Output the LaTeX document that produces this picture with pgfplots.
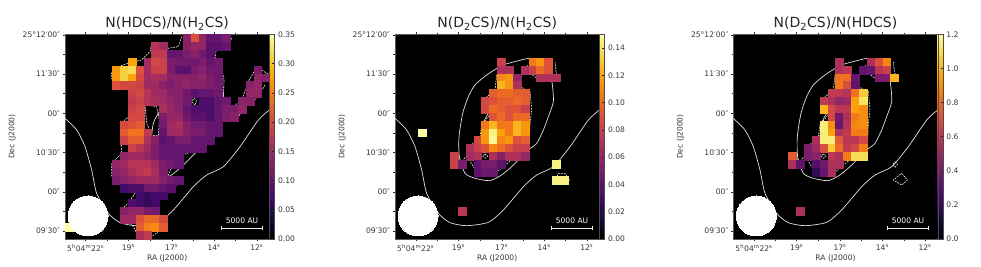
\documentclass[border=0pt]{standalone}
\usepackage{pgfplots}
\usepackage{pgfplotstable}
\usepackage{fontspec}
\setmainfont{DejaVu Sans}
\pgfplotsset{compat=1.18}
\pgfplotsset{colormap={inferno}{rgb255=(0,0,4) rgb255=(22,11,57) rgb255=(66,10,104) rgb255=(106,23,110) rgb255=(147,38,103) rgb255=(188,55,84) rgb255=(221,81,58) rgb255=(243,120,25) rgb255=(252,165,10) rgb255=(246,215,70) rgb255=(252,255,164)}}
\definecolor{txt}{gray}{0.22}
\definecolor{cont}{gray}{0.88}
\pgfplotstableread[row sep=\\]{i j v\\
15 0 .13\\16 0 .21\\17 0 .14\\18 0 .10\\19 0 .10\\20 0 .12\\
11 1 .17\\12 1 .15\\15 1 .13\\16 1 .14\\17 1 .14\\18 1 .09\\19 1 .09\\20 1 .10\\
11 2 .18\\12 2 .18\\13 2 .10\\14 2 .10\\15 2 .12\\16 2 .13\\17 2 .11\\18 2 .09\\
8 3 .28\\10 3 .15\\11 3 .20\\12 3 .19\\13 3 .12\\14 3 .11\\15 3 .11\\16 3 .11\\17 3 .12\\18 3 .10\\19 3 .11\\
6 4 .27\\7 4 .31\\8 4 .32\\9 4 .21\\10 4 .15\\11 4 .19\\12 4 .19\\13 4 .12\\14 4 .09\\15 4 .09\\16 4 .12\\17 4 .13\\18 4 .11\\19 4 .11\\24 4 .12\\
6 5 .27\\7 5 .31\\8 5 .28\\9 5 .20\\10 5 .15\\11 5 .16\\12 5 .15\\13 5 .13\\14 5 .13\\15 5 .13\\16 5 .13\\17 5 .14\\18 5 .12\\19 5 .11\\24 5 .14\\25 5 .13\\
6 6 .21\\7 6 .20\\8 6 .20\\9 6 .19\\10 6 .15\\11 6 .15\\12 6 .13\\13 6 .12\\14 6 .13\\15 6 .14\\16 6 .13\\17 6 .13\\18 6 .12\\19 6 .11\\23 6 .13\\24 6 .14\\
8 7 .19\\9 7 .20\\10 7 .17\\11 7 .15\\12 7 .15\\13 7 .13\\14 7 .13\\15 7 .11\\16 7 .09\\17 7 .10\\18 7 .10\\19 7 .11\\23 7 .14\\24 7 .14\\
8 8 .18\\9 8 .19\\10 8 .17\\11 8 .16\\12 8 .15\\13 8 .14\\14 8 .13\\15 8 .11\\17 8 .08\\18 8 .08\\19 8 .10\\20 8 .11\\22 8 .13\\23 8 .13\\
8 9 .19\\9 9 .20\\12 9 .16\\13 9 .14\\14 9 .13\\15 9 .10\\16 9 .08\\17 9 .08\\18 9 .08\\19 9 .10\\20 9 .12\\21 9 .12\\22 9 .14\\
8 10 .20\\9 10 .20\\12 10 .12\\13 10 .14\\14 10 .14\\15 10 .11\\16 10 .09\\17 10 .09\\18 10 .08\\19 10 .10\\20 10 .12\\21 10 .13\\
7 11 .20\\8 11 .21\\9 11 .22\\12 11 .11\\13 11 .15\\14 11 .16\\15 11 .13\\16 11 .11\\17 11 .11\\18 11 .10\\19 11 .10\\
7 12 .22\\8 12 .24\\9 12 .24\\10 12 .18\\12 12 .10\\13 12 .15\\14 12 .15\\15 12 .13\\16 12 .12\\17 12 .12\\18 12 .10\\19 12 .10\\
7 13 .19\\8 13 .22\\9 13 .22\\10 13 .16\\11 13 .13\\12 13 .09\\13 13 .10\\14 13 .12\\15 13 .12\\16 13 .10\\17 13 .10\\18 13 .10\\
8 14 .19\\9 14 .17\\10 14 .15\\11 14 .12\\12 14 .10\\13 14 .10\\14 14 .10\\15 14 .10\\16 14 .10\\17 14 .10\\
7 15 .14\\8 15 .15\\9 15 .15\\10 15 .14\\11 15 .12\\12 15 .10\\13 15 .10\\14 15 .10\\
6 16 .14\\7 16 .15\\8 16 .17\\9 16 .17\\10 16 .17\\11 16 .15\\12 16 .12\\13 16 .11\\14 16 .10\\
6 17 .13\\7 17 .14\\8 17 .16\\9 17 .17\\10 17 .18\\11 17 .16\\12 17 .12\\
6 18 .12\\7 18 .13\\8 18 .14\\9 18 .15\\10 18 .15\\11 18 .15\\12 18 .13\\13 18 .11\\14 18 .10\\
7 19 .07\\8 19 .08\\9 19 .08\\10 19 .11\\11 19 .11\\12 19 .10\\13 19 .09\\
9 20 .07\\10 20 .06\\11 20 .07\\12 20 .07\\
8 21 .08\\9 21 .07\\10 21 .06\\11 21 .07\\
7 22 .13\\8 22 .14\\9 22 .14\\10 22 .12\\11 22 .11\\
7 23 .15\\8 23 .15\\9 23 .21\\10 23 .23\\11 23 .23\\12 23 .20\\
0 24 .35\\9 24 .22\\10 24 .25\\11 24 .26\\12 24 .22\\
9 25 .16\\10 25 .18\\
}\tabA
\pgfplotstableread[row sep=\\]{i j v\\
13 3 .08\\17 3 .105\\18 3 .115\\19 3 .09\\
13 4 .07\\14 4 .07\\16 4 .07\\17 4 .08\\18 4 .10\\19 4 .09\\
13 5 .11\\14 5 .115\\15 5 .06\\18 5 .07\\19 5 .07\\20 5 .07\\
13 6 .125\\14 6 .115\\15 6 .07\\
12 7 .095\\13 7 .10\\14 7 .10\\15 7 .095\\16 7 .095\\
11 8 .085\\12 8 .09\\13 8 .095\\14 8 .095\\15 8 .10\\16 8 .095\\
11 9 .085\\12 9 .10\\13 9 .095\\14 9 .09\\15 9 .09\\16 9 .08\\
12 10 .09\\13 10 .10\\14 10 .09\\15 10 .10\\16 10 .10\\
11 11 .105\\12 11 .125\\13 11 .105\\14 11 .105\\15 11 .125\\16 11 .115\\
3 12 .15\\11 12 .115\\12 12 .145\\13 12 .12\\14 12 .105\\15 12 .125\\16 12 .115\\
10 13 .085\\11 13 .115\\12 13 .148\\13 13 .11\\14 13 .115\\15 13 .09\\16 13 .095\\
9 14 .07\\10 14 .08\\11 14 .09\\12 14 .11\\13 14 .10\\14 14 .09\\15 14 .08\\16 14 .08\\
7 15 .08\\9 15 .065\\10 15 .07\\12 15 .07\\13 15 .055\\14 15 .07\\15 15 .07\\16 15 .06\\
7 16 .08\\8 16 .05\\10 16 .04\\11 16 .05\\12 16 .05\\13 16 .04\\20 16 .145\\
10 17 .04\\11 17 .045\\12 17 .045\\
20 18 .145\\21 18 .145\\
8 22 .075\\
}\tabB
\pgfplotstableread[row sep=\\]{i j v\\
13 3 .55\\17 3 .55\\18 3 .72\\19 3 .88\\
13 4 .55\\14 4 .6\\16 4 .33\\17 4 .35\\18 4 .6\\19 4 .65\\
13 5 .82\\14 5 .82\\15 5 .35\\18 5 .42\\19 5 .42\\20 5 1.0\\
13 6 .85\\14 6 .7\\15 6 .33\\
12 7 .62\\13 7 .62\\14 7 .58\\15 7 .82\\16 7 1.05\\
11 8 .62\\12 8 .55\\13 8 .48\\14 8 .5\\15 8 .95\\16 8 1.12\\
11 9 1.0\\12 9 .68\\13 9 .6\\14 9 .6\\15 9 .95\\16 9 .9\\
12 10 .68\\13 10 .38\\14 10 .55\\15 10 .85\\16 10 .9\\
11 11 1.15\\12 11 .9\\13 11 .35\\14 11 .58\\15 11 .88\\16 11 .9\\
11 12 1.15\\12 12 .95\\13 12 .55\\14 12 .62\\15 12 .85\\16 12 .85\\
10 13 .55\\11 13 1.15\\12 13 1.15\\13 13 .75\\14 13 .6\\15 13 .6\\16 13 .68\\
9 14 .42\\10 14 .5\\11 14 .7\\12 14 1.05\\13 14 .8\\14 14 .62\\15 14 .68\\16 14 .85\\
7 15 .75\\9 15 .42\\10 15 .45\\12 15 .6\\13 15 .55\\14 15 .85\\15 15 1.1\\16 15 1.1\\
7 16 .55\\8 16 .33\\10 16 .3\\11 16 .38\\12 16 .55\\13 16 .55\\
10 17 .2\\11 17 .35\\12 17 .55\\
8 22 .55\\
}\tabC
\pgfplotsset{panel/.style={
  scale only axis, width=204.4pt, height=204.7pt, anchor=south west,
  xmin=45, xmax=658, ymin=73, ymax=687, y dir=reverse,
  axis background/.style={fill=black}, clip=true,
  tick align=outside, ytick pos=left,
  axis line style={gray!70!black, line width=0.5pt},
  tick style={gray!30!black, line width=0.35pt},
  major tick length=2.4pt, minor tick length=1.6pt,
  xtick={107,235,365,492,620},
  minor xtick={171,300,428,556},
  xticklabels={5\textsuperscript{h}04\textsuperscript{m}22\textsuperscript{s},19\textsuperscript{s},17\textsuperscript{s},14\textsuperscript{s},12\textsuperscript{s}},
  ytick={75,192,310,428,546,663},
  minor ytick={133,251,369,487,605},
  yticklabels={25°12′00″,11′30″,00″,10′30″,00″,09′30″},
  tick label style={font=\fontsize{7.6}{8}\selectfont, text=txt},
  every x tick label/.append style={yshift=0.5pt},
  every y tick label/.append style={xshift=1pt},
  xlabel={RA (J2000)}, ylabel={Dec (J2000)},
  label style={font=\fontsize{7.6}{8}\selectfont, text=txt},
  xlabel style={yshift=3.5pt}, ylabel style={yshift=0pt},
  title style={font=\fontsize{14}{16}\selectfont, text=black!85, yshift=-5.5pt},
  colormap name=inferno, colorbar,
  colorbar style={at={(1,0)}, anchor=south west, xshift=1pt, width=5.2pt, height=204.7pt,
    y dir=normal, axis line style={gray!60!black, line width=0.4pt},
    ytick pos=right, yticklabel pos=right, xtick=\empty,
    tick style={gray!30!black, line width=0.35pt}, major tick length=2.2pt,
    tick label style={font=\fontsize{7.6}{8}\selectfont, text=txt},
    every y tick label/.append style={xshift=0pt},
    title={}, xlabel={}, ylabel={}},
}}
\newcommand\cells[1]{\addplot[scatter, only marks, mark=square*, mark size=3.93pt, scatter src=explicit, scatter/use mapped color={draw=mapped color, fill=mapped color}, mark options={line width=0.2pt}]
  table[x expr={45+23.58*(\thisrow{i}+0.5)}, y expr={73+23.6*(\thisrow{j}+0.5)}, meta=v]{#1};}
\newcommand\solid{%
\addplot[cont, line width=0.7pt, smooth, tension=0.4] coordinates {(440,146)(495,148)(510,185)(517,225)(520,275)(505,320)(490,360)(470,400)(445,420)(395,470)(360,498)(328,512)(285,505)(255,490)(238,440)(237,380)(248,310)(265,260)(285,225)(320,195)(370,165)(440,146)};
\addplot[cont, line width=0.7pt, smooth, tension=0.4] coordinates {(370,280)(395,290)(412,325)(405,370)(380,400)(345,412)(318,412)(305,385)(310,340)(325,310)(345,290)(370,280)};
\addplot[cont, line width=0.7pt, smooth, tension=0.4] coordinates {(45,325)(80,360)(105,410)(125,480)(140,550)(175,610)(210,638)(260,647)(325,637)(370,600)(430,530)(470,495)(520,470)(570,410)(625,330)(658,300)};}
\newcommand\extras[1]{%
\addplot[only marks, mark=*, mark size=20pt, white, mark options={line width=0pt}] coordinates {(114,618)};
\addplot[white!92!black, line width=0.9pt] coordinates {(#1,654)(#1+122,654)};
\addplot[white!92!black, line width=0.8pt] coordinates {(#1,647)(#1,661)};
\addplot[white!92!black, line width=0.8pt] coordinates {(#1+122,647)(#1+122,661)};
\node[text=white, font=\fontsize{7.6}{8}\selectfont] at (axis cs:#1+61,633) {5000 AU};}
\tikzset{dsh/.style={white!95!black, line width=0.6pt, dash pattern=on 1.8pt off 1pt}}
\begin{document}
\begin{tikzpicture}[x=1pt,y=1pt]
\useasboundingbox (0,0) rectangle (981,267);
\begin{axis}[panel, at={(65pt,28pt)}, title={N(HDCS)/N(H\textsubscript{2}CS)}, point meta min=0, point meta max=0.35,
  colorbar style={ytick={0,.05,.1,.15,.2,.25,.3,.35}, yticklabels={0.00,0.05,0.10,0.15,0.20,0.25,0.30,0.35}}]
\cells{\tabA}
\solid
\addplot[dsh] coordinates {(545,85)(530,110)(495,125)(497,145)(515,175)(522,210)(520,260)(535,280)(550,290)(575,270)(595,215)(620,170)(635,180)(658,195)};
\addplot[dsh] coordinates {(645,225)(620,265)(590,285)(565,320)(520,335)(495,345)(490,380)(460,415)(395,435)(365,470)(355,495)(375,505)(382,525)(355,545)(325,560)(305,590)(335,630)(325,665)(295,687)};
\addplot[dsh] coordinates {(270,687)(250,650)(225,625)(212,600)(235,580)(255,550)(220,535)(185,500)(185,460)(215,430)(212,380)(212,340)(237,320)(240,250)(235,235)(190,225)(183,195)(190,175)(235,160)(275,150)(300,125)(305,100)(345,97)(355,115)(385,110)(395,80)};
\addplot[dsh] coordinates {(285,285)(320,290)(328,330)(325,378)(305,375)(290,340)(285,285)};
\addplot[dsh] coordinates {(440,175)(460,170)(465,190)(450,193)(440,175)};
\addplot[dsh] coordinates {(365,340)(385,345)(385,350)(365,350)(365,340)};
\addplot[dsh] coordinates {(432,265)(440,272)(435,285)(425,275)(432,265)};
\addplot[dsh] coordinates {(255,450)(295,440)(325,460)(330,505)(290,535)(250,520)(230,485)(240,460)(255,450)};
\extras{515}
\end{axis}
\begin{axis}[panel, at={(395pt,28pt)}, title={N(D\textsubscript{2}CS)/N(H\textsubscript{2}CS)}, point meta min=0, point meta max=0.15,
  colorbar style={ytick={0,.02,.04,.06,.08,.1,.12,.14}, yticklabels={0.00,0.02,0.04,0.06,0.08,0.10,0.12,0.14}}]
\cells{\tabB}
\solid
\addplot[dsh] coordinates {(525,155)(528,185)(537,208)(480,212)(450,190)(425,180)(445,165)};
\addplot[dsh] coordinates {(415,195)(420,230)(450,245)(455,300)(450,340)(447,420)(400,445)(370,470)(345,490)(300,500)(280,470)(265,445)(245,470)(215,470)(212,435)(232,430)(240,460)(258,440)(268,410)(300,380)(305,345)(325,320)(345,290)(310,310)(315,265)(345,240)(350,195)(385,190)(415,195)};
\addplot[dsh] coordinates {(315,432)(323,438)(315,445)(308,438)(315,432)};
\addplot[dsh] coordinates {(535,490)(555,490)(568,510)(550,522)(525,515)(535,490)};
\extras{515}
\end{axis}
\begin{axis}[panel, at={(733.3pt,28pt)}, title={N(D\textsubscript{2}CS)/N(HDCS)}, point meta min=0, point meta max=1.2,
  colorbar style={ytick={0,.2,.4,.6,.8,1,1.2}, yticklabels={0.0,0.2,0.4,0.6,0.8,1.0,1.2}}]
\cells{\tabC}
\solid
\addplot[dsh] coordinates {(525,155)(528,185)(537,208)(480,212)(450,190)(425,180)(445,165)};
\addplot[dsh] coordinates {(415,195)(420,230)(450,245)(455,300)(450,340)(447,420)(400,445)(370,470)(345,490)(300,500)(280,470)(265,445)(245,470)(215,470)(212,435)(232,430)(240,460)(258,440)(268,410)(300,380)(305,345)(325,320)(345,290)(310,310)(315,265)(345,240)(350,195)(385,190)(415,195)};
\addplot[dsh] coordinates {(315,432)(323,438)(315,445)(308,438)(315,432)};
\addplot[dsh] coordinates {(530,455)(537,463)(530,472)(523,463)(530,455)};
\addplot[dsh] coordinates {(550,490)(567,510)(550,525)(525,510)(550,490)};
\extras{508}
\end{axis}
\end{tikzpicture}
\end{document}
